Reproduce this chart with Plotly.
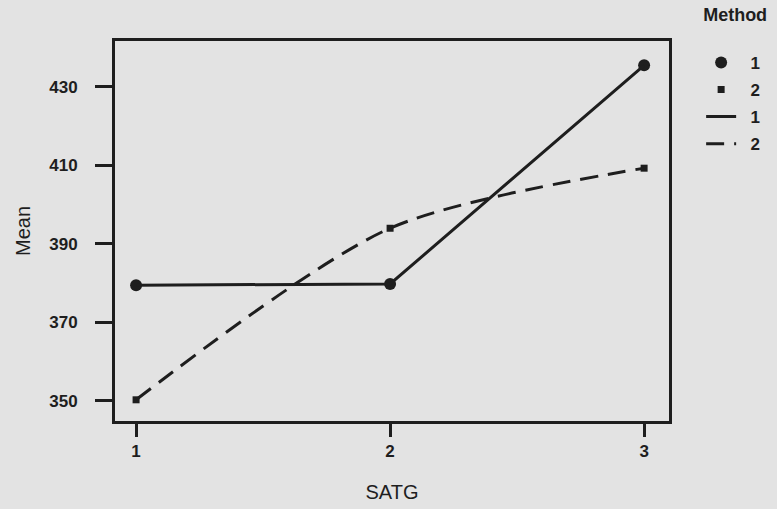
import plotly.graph_objects as go

satg = [1, 2, 3]
method1_mean = [379.5, 379.8, 435.5]
method2_mean = [350.3, 394.0, 409.3]
y_ticks = [350, 370, 390, 410, 430]
x_ticks = [1, 2, 3]

ink = "#1e1e1e"
bg = "#e3e3e3"
font_fam = "Liberation Sans, Arial, sans-serif"
nb = "\u00a0\u00a0"

fig = go.Figure()
fig.add_trace(go.Scatter(x=satg, y=method1_mean, mode="markers", name=f"<b>{nb}1</b>", legendgroup="a",
                         marker=dict(symbol="circle", size=12, color=ink)))
fig.add_trace(go.Scatter(x=satg, y=method2_mean, mode="markers", name=f"<b>{nb}2</b>", legendgroup="b",
                         marker=dict(symbol="square", size=7, color=ink)))
fig.add_trace(go.Scatter(x=satg, y=method1_mean, mode="lines", name=f"<b>{nb}1</b>", legendgroup="c",
                         line=dict(color=ink, width=3)))
fig.add_trace(go.Scatter(x=satg, y=method2_mean, mode="lines", name=f"<b>{nb}2</b>", legendgroup="d",
                         line=dict(color=ink, width=3, dash="18px,10px", shape="spline", smoothing=0.8)))

fig.update_layout(
    width=777, height=509,
    margin=dict(l=115, r=108, t=41, b=88, autoexpand=False),
    paper_bgcolor=bg, plot_bgcolor=bg,
    font=dict(family=font_fam, color=ink, size=14),
    showlegend=True,
    legend=dict(
        title=dict(text="<b>Method</b><br> ", font=dict(size=18)),
        x=1.058, y=1.113, xanchor="left", yanchor="top",
        bgcolor="rgba(0,0,0,0)",
        font=dict(size=17),
        tracegroupgap=2,
    ),
    xaxis=dict(
        range=[0.917, 3.098], tickvals=x_ticks, ticktext=[f"<b>{v}</b>" for v in x_ticks],
        ticks="outside", ticklen=13, tickwidth=3, tickcolor=ink,
        showline=True, linewidth=3, linecolor=ink, mirror=True,
        showgrid=False, zeroline=False,
        tickfont=dict(size=17),
        title=dict(text="SATG", font=dict(size=20), standoff=25),
    ),
    yaxis=dict(
        range=[344.9, 441.7], tickvals=y_ticks, ticktext=[f"<b>{v}</b>" for v in y_ticks],
        ticks="outside", ticklen=17, tickwidth=3, tickcolor=ink,
        showline=True, linewidth=3, linecolor=ink, mirror=True,
        showgrid=False, zeroline=False,
        tickfont=dict(size=17),
        ticklabelstandoff=14,
        title=dict(text="Mean", font=dict(size=20), standoff=14),
    ),
)

fig.write_html("out.html", config={"displayModeBar": False})
with open("out.html", encoding="utf-8") as f:
    html = f.read()
html = html.replace("<body>", '<body style="margin:0;padding:0;overflow:hidden">', 1)
with open("out.html", "w", encoding="utf-8") as f:
    f.write(html)
